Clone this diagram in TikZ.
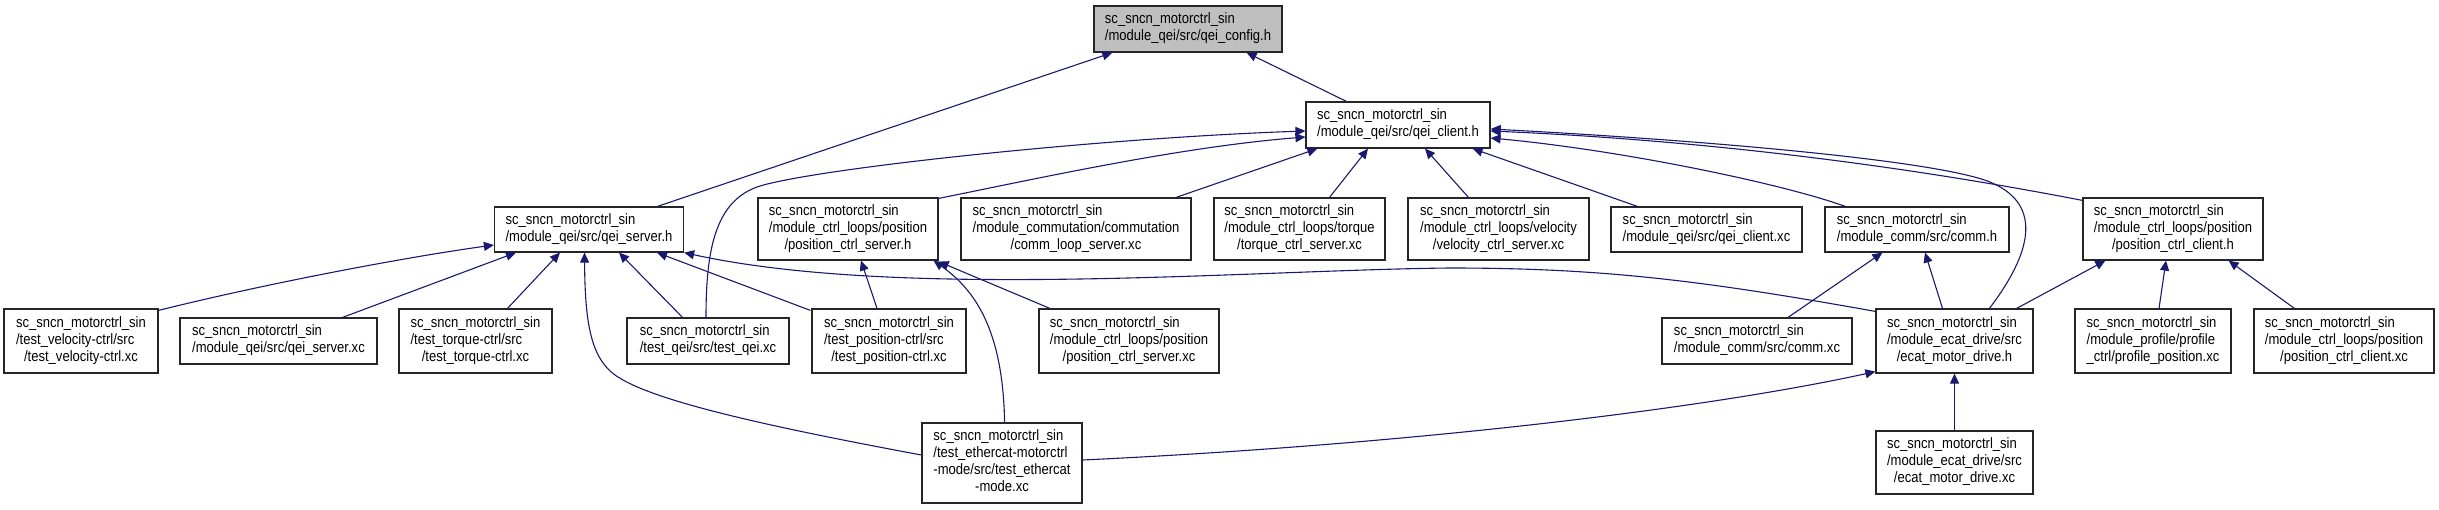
\documentclass[tikz,border=0pt]{standalone}
\usepackage{fontspec}
\setmainfont{Liberation Sans}[FakeStretch=0.87]
\usetikzlibrary{arrows.meta,calc}
\definecolor{edgeblue}{HTML}{191970}
\definecolor{cfggray}{HTML}{BFBFBF}
\newcommand\lbl[2]{\begin{tabular}{@{}l@{}}#1\\\multicolumn{1}{@{}c@{}}{#2}\end{tabular}}
\begin{document}
\begin{tikzpicture}[x=1pt,y=-1pt,
  box/.style={draw=black!85, line width=1.2pt, fill=white, inner sep=0pt,
    font=\fontsize{15}{17}\selectfont},
  edge/.style={draw=edgeblue, line width=1.1pt, -{Triangle[length=10pt,width=9pt]}}]
\useasboundingbox (0,0) rectangle (2439,509);
% nodes
\node[box, fill=cfggray, minimum width=188pt, minimum height=46pt] (cfg) at (1188,29) {\lbl{sc\_sncn\_motorctrl\_sin}{/module\_qei/src/qei\_config.h}};
\node[box, minimum width=184pt, minimum height=46pt] (client) at (1398,125) {\lbl{sc\_sncn\_motorctrl\_sin}{/module\_qei/src/qei\_client.h}};
\node[box, minimum width=189pt, minimum height=45pt] (server) at (589,229.5) {\lbl{sc\_sncn\_motorctrl\_sin}{/module\_qei/src/qei\_server.h}};
\node[box, minimum width=180pt, minimum height=62pt] (pcsh) at (848,229) {\lbl{sc\_sncn\_motorctrl\_sin\\/module\_ctrl\_loops/position}{/position\_ctrl\_server.h}};
\node[box, minimum width=230pt, minimum height=62pt] (commloop) at (1076,229) {\lbl{sc\_sncn\_motorctrl\_sin\\/module\_commutation/commutation}{/comm\_loop\_server.xc}};
\node[box, minimum width=171pt, minimum height=62pt] (torque) at (1299.5,229) {\lbl{sc\_sncn\_motorctrl\_sin\\/module\_ctrl\_loops/torque}{/torque\_ctrl\_server.xc}};
\node[box, minimum width=181pt, minimum height=62pt] (velocity) at (1498.5,229) {\lbl{sc\_sncn\_motorctrl\_sin\\/module\_ctrl\_loops/velocity}{/velocity\_ctrl\_server.xc}};
\node[box, minimum width=191pt, minimum height=45pt] (clientxc) at (1706.5,229.5) {\lbl{sc\_sncn\_motorctrl\_sin}{/module\_qei/src/qei\_client.xc}};
\node[box, minimum width=184pt, minimum height=45pt] (commh) at (1917,229.5) {\lbl{sc\_sncn\_motorctrl\_sin}{/module\_comm/src/comm.h}};
\node[box, minimum width=180pt, minimum height=62pt] (pcch) at (2173,229) {\lbl{sc\_sncn\_motorctrl\_sin\\/module\_ctrl\_loops/position}{/position\_ctrl\_client.h}};
\node[box, minimum width=154pt, minimum height=64pt] (testvel) at (81,341) {\lbl{sc\_sncn\_motorctrl\_sin\\/test\_velocity-ctrl/src}{/test\_velocity-ctrl.xc}};
\node[box, minimum width=197pt, minimum height=46pt] (serverxc) at (278.5,341) {\lbl{sc\_sncn\_motorctrl\_sin}{/module\_qei/src/qei\_server.xc}};
\node[box, minimum width=153pt, minimum height=64pt] (testtorque) at (475.5,341) {\lbl{sc\_sncn\_motorctrl\_sin\\/test\_torque-ctrl/src}{/test\_torque-ctrl.xc}};
\node[box, minimum width=162pt, minimum height=46pt] (testqei) at (708,341) {\lbl{sc\_sncn\_motorctrl\_sin}{/test\_qei/src/test\_qei.xc}};
\node[box, minimum width=154pt, minimum height=64pt] (testpos) at (889,341) {\lbl{sc\_sncn\_motorctrl\_sin\\/test\_position-ctrl/src}{/test\_position-ctrl.xc}};
\node[box, minimum width=180pt, minimum height=64pt] (pcsxc) at (1129,341) {\lbl{sc\_sncn\_motorctrl\_sin\\/module\_ctrl\_loops/position}{/position\_ctrl\_server.xc}};
\node[box, minimum width=190pt, minimum height=46pt] (commxc) at (1757,341) {\lbl{sc\_sncn\_motorctrl\_sin}{/module\_comm/src/comm.xc}};
\node[box, minimum width=157pt, minimum height=64pt] (ecath) at (1954.5,341) {\lbl{sc\_sncn\_motorctrl\_sin\\/module\_ecat\_drive/src}{/ecat\_motor\_drive.h}};
\node[box, minimum width=156pt, minimum height=64pt] (profile) at (2153,341) {\lbl{sc\_sncn\_motorctrl\_sin\\/module\_profile/profile}{\_ctrl/profile\_position.xc}};
\node[box, minimum width=180pt, minimum height=64pt] (pccxc) at (2344,341) {\lbl{sc\_sncn\_motorctrl\_sin\\/module\_ctrl\_loops/position}{/position\_ctrl\_client.xc}};
\node[box, minimum width=160pt, minimum height=80pt] (ethercat) at (1002,463) {\lbl{sc\_sncn\_motorctrl\_sin\\/test\_ethercat-motorctrl\\-mode/src/test\_ethercat}{-mode.xc}};
\node[box, minimum width=157pt, minimum height=63pt] (ecatxc) at (1954.5,462.5) {\lbl{sc\_sncn\_motorctrl\_sin\\/module\_ecat\_drive/src}{/ecat\_motor\_drive.xc}};
% edges to qei_config.h
\draw[edge] ($(server.north)+(68.5,0)$) -- ($(cfg.south west)+(19,0)$);
\draw[edge] ($(client.north west)+(41,0)$) -- ($(cfg.south east)+(-36,0)$);
% edges to qei_client.h
\draw[edge] ($(pcsh.north east)+(0,1)$) .. controls (1040,178) and (1180,147) .. ($(client.west)+(0,12)$);
\draw[edge] ($(testqei.north)+(-2,0)$) .. controls (706,250) and (715,200) .. (760,186) .. controls (820,168) and (1100,138) .. ($(client.west)+(0,6)$);
\draw[edge] ($(commloop.north east)+(-15.5,0)$) -- ($(client.south west)+(12,0)$);
\draw[edge] ($(torque.north)+(30,0)$) -- ($(client.south)+(-30,0)$);
\draw[edge] ($(velocity.north)+(-30,0)$) -- ($(client.south)+(27,0)$);
\draw[edge] ($(clientxc.north west)+(27,0)$) -- ($(client.south east)+(-18,0)$);
\draw[edge] ($(commh.north west)+(21,0)$) .. controls (1780,183) and (1620,150) .. ($(client.east)+(0,13)$);
\draw[edge] ($(pcch.north west)+(0,3)$) .. controls (1900,165) and (1700,140) .. ($(client.east)+(0,6)$);
\draw[edge] ($(ecath.north west)+(114,0)$) .. controls (2030,255) and (2045,205) .. (1990,182) .. controls (1935,160) and (1700,140) .. ($(client.east)+(0,4)$);
% edges to qei_server.h
\draw[edge] ($(testvel.north east)+(0,2)$) .. controls (260,285) and (400,258) .. ($(server.west)+(0,15.5)$);
\draw[edge] ($(serverxc.north)+(64,0)$) -- ($(server.south west)+(22,0)$);
\draw[edge] ($(testtorque.north)+(32,0)$) -- ($(server.south west)+(66,0)$);
\draw[edge] ($(ethercat.west)+(0,-8)$) .. controls (760,425) and (650,400) .. (615,375) .. controls (590,357) and (585,320) .. ($(server.south)+(-4.5,0)$);
\draw[edge] ($(testqei.north)+(-25.5,0)$) -- ($(server.south)+(30,0)$);
\draw[edge] ($(testpos.north west)+(-1,2)$) -- ($(server.south)+(68,0)$);
\draw[edge] ($(ecath.north west)+(0,3)$) .. controls (1700,280) and (1600,268) .. (1450,268) .. controls (1250,270) and (900,300) .. (server.south east);
% edges to position_ctrl_server.h
\draw[edge] ($(testpos.north)+(-12,0)$) -- ($(pcsh.south)+(13,0)$);
\draw[edge] ($(ethercat.north)+(2.6,0)$) .. controls (1003,330) and (975,290) .. ($(pcsh.south east)+(-5,0)$);
\draw[edge] ($(pcsxc.north west)+(11.5,0)$) -- ($(pcsh.south east)+(0,1)$);
% edges to comm.h
\draw[edge] ($(commxc.north)+(31,0)$) -- ($(commh.south west)+(58,0)$);
\draw[edge] ($(ecath.north)+(-12,0)$) -- ($(commh.south)+(8,0)$);
% edges to position_ctrl_client.h
\draw[edge] ($(ecath.north east)+(-17,0)$) -- ($(pcch.south west)+(23,0)$);
\draw[edge] ($(profile.north)+(6,0)$) -- ($(pcch.south)+(-7,0)$);
\draw[edge] ($(pccxc.north west)+(41,0)$) -- ($(pcch.south east)+(-35,0)$);
% edges to ecat_motor_drive.h
\draw[edge] (ecatxc.north) -- (ecath.south);
\draw[edge] ($(ethercat.east)+(0,-3)$) .. controls (1400,445) and (1700,410) .. ($(ecath.south west)+(0,-2)$);
\end{tikzpicture}
\end{document}
